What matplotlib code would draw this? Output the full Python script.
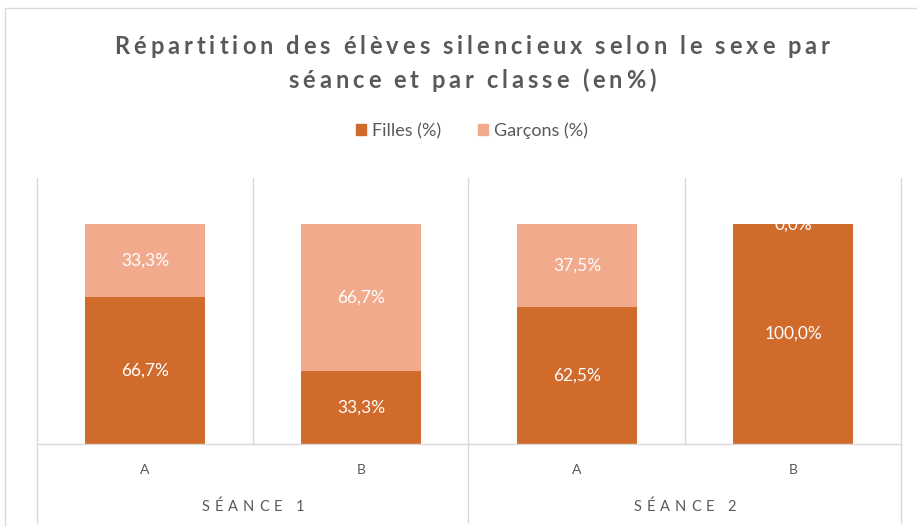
import numpy as np
import matplotlib
matplotlib.use('Agg')
import matplotlib.pyplot as plt
from matplotlib.lines import Line2D
from matplotlib.font_manager import FontProperties

classes = ['A', 'B', 'A', 'B']
seances = ['SÉANCE 1', 'SÉANCE 2']
filles = [66.7, 33.3, 62.5, 100.0]
garcons = [33.3, 66.7, 37.5, 0.0]
title_lines = ['Répartition des élèves silencieux selon le sexe par',
               'séance et par classe (en%)']

C_FILLES = '#D06B2C'
C_GARCONS = '#F1AA8C'
GRID = '#D9D9D9'
TEXT = '#595959'
W, H = 917, 527

plt.rcParams['font.family'] = ['Lato', 'DejaVu Sans']

fig = plt.figure(figsize=(W / 100, H / 100), dpi=100, facecolor='white')
renderer = fig.canvas.get_renderer()


def fx(px):
    return px / W


def fy(py):
    return 1 - py / H


def tracked_text(xc, y, s, size, weight='normal', track=3.0, space=0.22):
    # draw a string one char at a time to fake letter spacing (pixel coords)
    fp = FontProperties(family=['Lato', 'DejaVu Sans'], size=size, weight=weight)
    widths = []
    for ch in s:
        if ch == ' ':
            widths.append(size * 100 / 72 * space)
        else:
            w, _, _ = renderer.get_text_width_height_descent(ch, fp, ismath=False)
            widths.append(w)
    total = sum(widths) + track * (len(s) - 1)
    xp = xc - total / 2
    for ch, w in zip(s, widths):
        if ch != ' ':
            fig.text(fx(xp), fy(y), ch, ha='left', va='center', color=TEXT,
                     fontproperties=fp)
        xp += w + track


# plot area: x 37..901, y 178..444 (pixels from top)
ax = fig.add_axes([fx(37), fy(444), fx(901) - fx(37), fy(178) - fy(444)])
x = np.arange(len(classes))
f = np.array(filles) / 100
g = np.array(garcons) / 100
ax.bar(x, f, width=0.555, color=C_FILLES, zorder=3)
ax.bar(x, g, width=0.555, bottom=f, color=C_GARCONS, zorder=3)
ax.set_xlim(-0.5, len(classes) - 0.5)
ax.set_ylim(0, 1.21)
ax.axis('off')

for i in range(len(classes)):
    ax.text(x[i], f[i] / 2, f'{filles[i]:.1f}%'.replace('.', ','), ha='center', va='center',
            color='white', fontsize=12.5, zorder=4)
    ax.text(x[i], f[i] + g[i] / 2, f'{garcons[i]:.1f}%'.replace('.', ','), ha='center',
            va='center', color='white', fontsize=12.5, zorder=4)

# grid / category box lines
fig.lines.append(Line2D([fx(37), fx(901)], [fy(444), fy(444)], color=GRID, lw=1,
                        transform=fig.transFigure))
for px in [37, 468, 901]:
    fig.lines.append(Line2D([fx(px), fx(px)], [fy(178), fy(522)], color=GRID, lw=1,
                            transform=fig.transFigure))
for px in [253, 685]:
    fig.lines.append(Line2D([fx(px), fx(px)], [fy(178), fy(444)], color=GRID, lw=1,
                            transform=fig.transFigure))

# chart frame
fig.lines.append(Line2D([fx(5), fx(5), fx(917)], [fy(527), fy(8), fy(8)], color=GRID,
                        lw=1, transform=fig.transFigure))

# category labels
cell = (901 - 37) / len(classes)
for i, c in enumerate(classes):
    fig.text(fx(37 + cell * (i + 0.5)), fy(470), c, ha='center', va='center',
             color=TEXT, fontsize=10)
for j, s in enumerate(seances):
    tracked_text(37 + cell * (2 * j + 1), 507, s, 10.5, track=5.0, space=0.22)

# title
tracked_text(472, 47, title_lines[0], 17, weight='bold', track=4.0, space=0.2)
tracked_text(472, 80, title_lines[1], 17, weight='bold', track=4.0, space=0.2)

# legend
fig.legend(handles=[plt.Rectangle((0, 0), 1, 1, color=C_FILLES),
                    plt.Rectangle((0, 0), 1, 1, color=C_GARCONS)],
           labels=['Filles (%)', 'Garçons (%)'], loc='center',
           bbox_to_anchor=(fx(472), fy(131)), ncol=2, frameon=False,
           fontsize=13, labelcolor=TEXT, handlelength=0.55, handleheight=0.55,
           handletextpad=0.35, columnspacing=2.0)

fig.savefig('out.png', dpi=100, facecolor='white')
